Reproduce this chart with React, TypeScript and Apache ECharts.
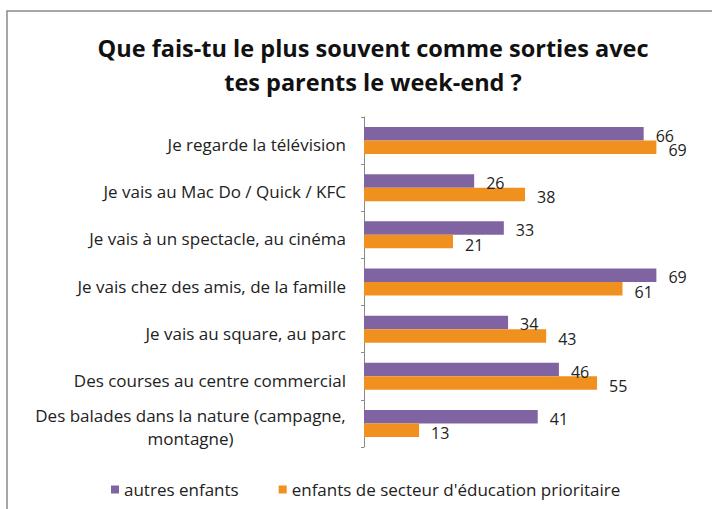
import React, { useEffect, useRef } from "react";
import * as echarts from "echarts";

const categories = [
  "Je regarde la télévision",
  "Je vais au Mac Do / Quick / KFC",
  "Je vais à un spectacle, au cinéma",
  "Je vais chez des amis, de la famille",
  "Je vais au square, au parc",
  "Des courses au centre commercial",
  "Des balades dans la nature (campagne,\nmontagne)",
];
const seriesNames = ["autres enfants", "enfants de secteur d'éducation prioritaire"];
const autresEnfants = [66, 26, 33, 69, 34, 46, 41];
const enfantsREP = [69, 38, 21, 61, 43, 55, 13];

const FONT = "Open Sans";
const LABEL_SIZE = 17;

function measure(text: string): number {
  const c = document.createElement("canvas");
  const ctx = c.getContext("2d")!;
  ctx.font = `${LABEL_SIZE}px "${FONT}"`;
  return Math.ceil(ctx.measureText(text).width);
}

export default function App() {
  const ref = useRef<HTMLDivElement>(null);
  useEffect(() => {
    document.body.style.margin = "0";
    const chart = echarts.init(ref.current!, null, { renderer: "svg" });
    chart.setOption({
      animation: false,
      backgroundColor: "#ffffff",
      title: {
        text: "Que fais-tu le plus souvent comme sorties avec\ntes parents le week-end ?",
        left: 368,
        top: 26,
        textAlign: "center",
        textStyle: {
          fontFamily: FONT,
          fontWeight: "bold",
          fontSize: 23.5,
          lineHeight: 34,
          color: "#111",
        },
      },
      graphic: [
        {
          type: "rect",
          shape: { x: 7, y: 11, width: 730, height: 530 },
          style: { fill: "none", stroke: "#8a8a8a", lineWidth: 1.5 },
          silent: true,
        },
      ],
      legend: {
        left: 106,
        top: 476,
        icon: "rect",
        itemWidth: 8,
        itemHeight: 8,
        itemGap: 40,
        itemStyle: { borderWidth: 0 },
        textStyle: { fontFamily: FONT, fontSize: 17, color: "#222" },
        data: seriesNames,
      },
      grid: { left: 364, top: 117, bottom: 62, right: 9, containLabel: false },
      xAxis: {
        type: "value",
        min: 0,
        max: 80,
        show: false,
      },
      yAxis: {
        type: "category",
        inverse: true,
        data: categories,
        axisLine: { show: true, lineStyle: { color: "#8a8a8a", width: 1 } },
        axisTick: { show: true, length: 3, lineStyle: { color: "#8a8a8a" } },
        axisLabel: {
          margin: 18,
          fontFamily: FONT,
          fontSize: LABEL_SIZE,
          color: "#222",
          padding: [8, 0, 0, 0],
          formatter: (v: string) => {
            if (v.indexOf("\n") < 0) return v;
            const lines = v.split("\n");
            const w = Math.max(...lines.map(measure));
            return lines.map((s) => "{c" + w + "|" + s + "}").join("\n");
          },
          rich: (() => {
            const r: Record<string, any> = {};
            categories
              .filter((v) => v.indexOf("\n") >= 0)
              .forEach((v) => {
                const w = Math.max(...v.split("\n").map(measure));
                r["c" + w] = {
                  width: w,
                  align: "center",
                  fontFamily: FONT,
                  fontSize: LABEL_SIZE,
                  color: "#222",
                  lineHeight: 23,
                };
              });
            return r;
          })(),
        },
      },
      series: [
        {
          name: seriesNames[0],
          type: "bar",
          data: autresEnfants,
          barWidth: 13.5,
          barGap: "0%",
          itemStyle: { color: "#8064A2" },
          label: {
            show: true,
            position: "right",
            distance: 12,
            offset: [0, 2],
            fontFamily: FONT,
            fontSize: 16,
            color: "#222",
          },
        },
        {
          name: seriesNames[1],
          type: "bar",
          data: enfantsREP,
          barWidth: 13.5,
          barGap: "0%",
          itemStyle: { color: "#F0901E" },
          label: {
            show: true,
            position: "right",
            distance: 12,
            offset: [0, 3],
            fontFamily: FONT,
            fontSize: 16,
            color: "#222",
          },
        },
      ],
    });
    return () => chart.dispose();
  }, []);
  return <div ref={ref} style={{ width: 712, height: 509 }} />;
}
